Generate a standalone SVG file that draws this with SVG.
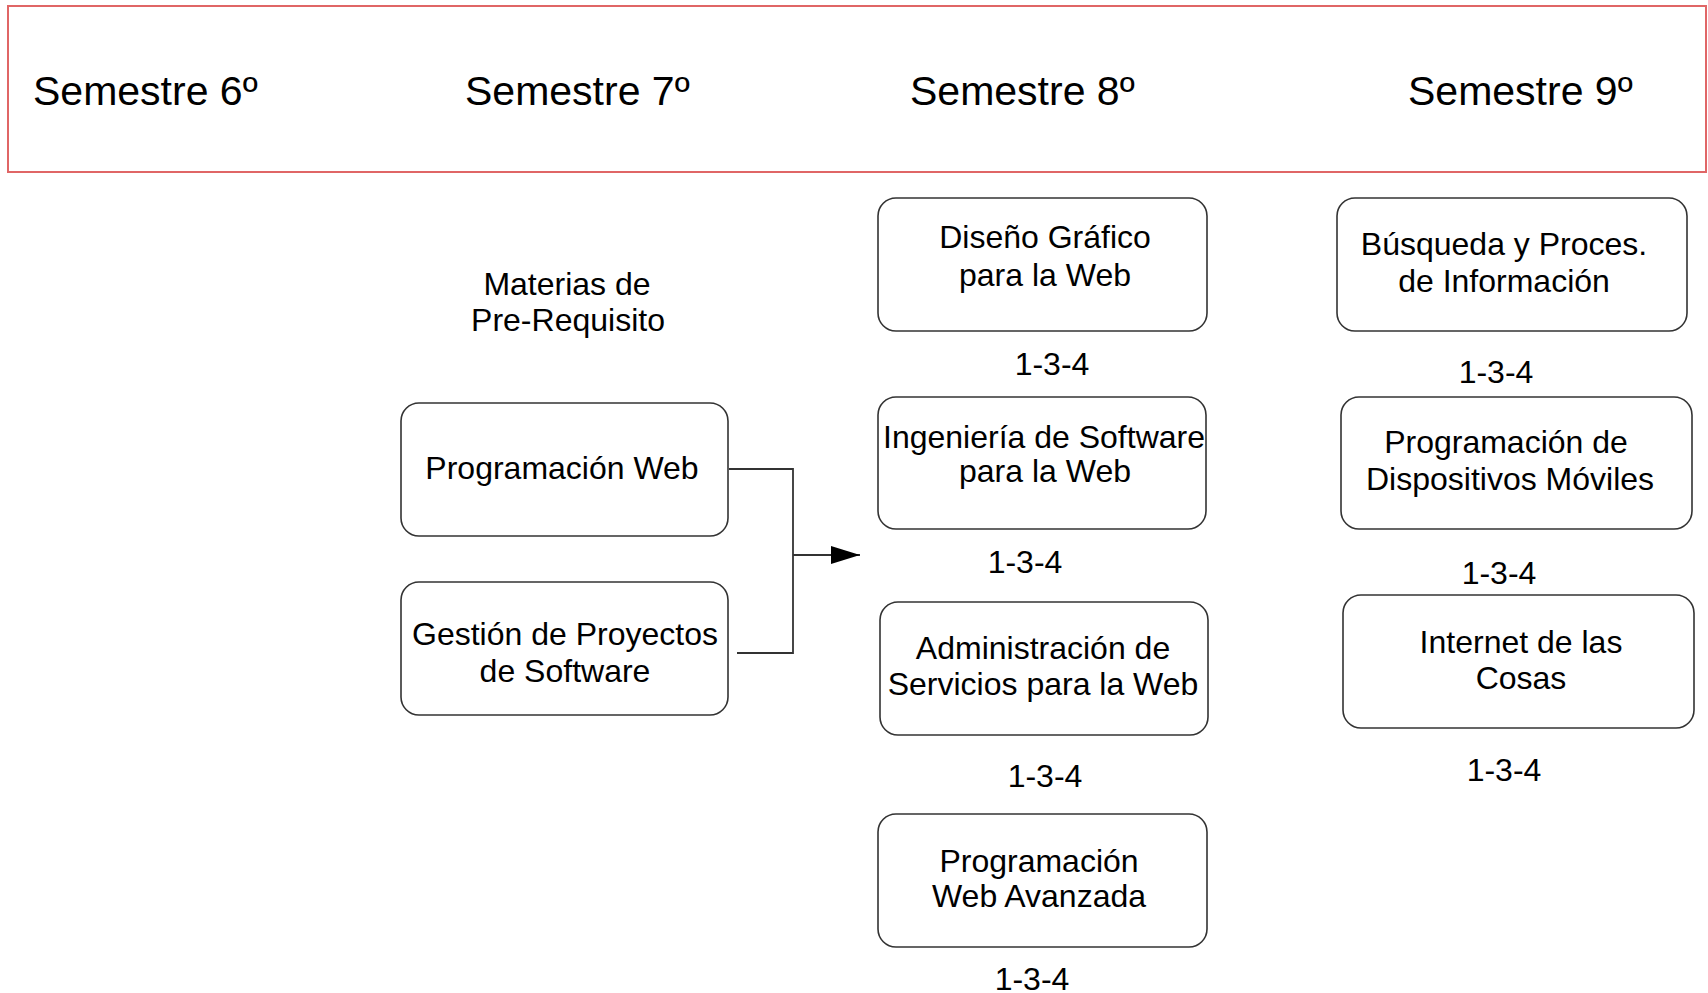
<svg xmlns="http://www.w3.org/2000/svg" width="1708" height="993" viewBox="0 0 1708 993">
<style>
text{font-family:"Liberation Sans",Arial,Helvetica,sans-serif;fill:#000}
.h{font-size:41px}
.t{font-size:32px;text-anchor:middle}
.box{fill:#fff;stroke:#333;stroke-width:1.6}
.conn{fill:none;stroke:#333;stroke-width:1.8}
</style>
<defs>
<marker id="arr" markerWidth="30" markerHeight="20" refX="29" refY="9" orient="auto" markerUnits="userSpaceOnUse">
<path d="M0,0 L29,9 L0,18 Z" fill="#000"/>
</marker>
</defs>
<rect width="1708" height="993" fill="#fff"/>
<g id="header">
<rect x="8" y="6" width="1698" height="166" fill="none" stroke="#e06666" stroke-width="2"/>
<text class="h" x="33" y="105">Semestre 6º</text>
<text class="h" x="465" y="105">Semestre 7º</text>
<text class="h" x="910" y="105">Semestre 8º</text>
<text class="h" x="1408" y="105">Semestre 9º</text>
</g>
<g id="prereq-label">
<text class="t" x="567" y="295">Materias de</text>
<text class="t" x="568" y="331">Pre-Requisito</text>
</g>
<g id="connectors">
<path class="conn" d="M729,469 H793 V653 H737"/>
<path class="conn" d="M793,555 H860" marker-end="url(#arr)"/>
</g>
<g id="prog-web">
<rect class="box" x="401" y="403" width="327" height="133" rx="18"/>
<text class="t" x="562" y="479">Programación Web</text>
</g>
<g id="gestion">
<rect class="box" x="401" y="582" width="327" height="133" rx="18"/>
<text class="t" x="565" y="645">Gestión de Proyectos</text>
<text class="t" x="565" y="682">de Software</text>
</g>
<g id="diseno">
<rect class="box" x="878" y="198" width="329" height="133" rx="18"/>
<text class="t" x="1045" y="248">Diseño Gráfico</text>
<text class="t" x="1045" y="286">para la Web</text>
<text class="t" x="1052" y="375">1-3-4</text>
</g>
<g id="ingenieria">
<rect class="box" x="878" y="397" width="328" height="132" rx="18"/>
<text class="t" x="1044" y="448">Ingeniería de Software</text>
<text class="t" x="1045" y="482">para la Web</text>
<text class="t" x="1025" y="573">1-3-4</text>
</g>
<g id="administracion">
<rect class="box" x="880" y="602" width="328" height="133" rx="18"/>
<text class="t" x="1043" y="659">Administración de</text>
<text class="t" x="1043" y="695">Servicios para la Web</text>
<text class="t" x="1045" y="787">1-3-4</text>
</g>
<g id="prog-web-avanzada">
<rect class="box" x="878" y="814" width="329" height="133" rx="18"/>
<text class="t" x="1039" y="872">Programación</text>
<text class="t" x="1039" y="907">Web Avanzada</text>
<text class="t" x="1032" y="990">1-3-4</text>
</g>
<g id="busqueda">
<rect class="box" x="1337" y="198" width="350" height="133" rx="18"/>
<text class="t" x="1504" y="255">Búsqueda y Proces.</text>
<text class="t" x="1504" y="292">de Información</text>
<text class="t" x="1496" y="383">1-3-4</text>
</g>
<g id="dispositivos">
<rect class="box" x="1341" y="397" width="351" height="132" rx="18"/>
<text class="t" x="1506" y="453">Programación de</text>
<text class="t" x="1510" y="490">Dispositivos Móviles</text>
<text class="t" x="1499" y="584">1-3-4</text>
</g>
<g id="internet">
<rect class="box" x="1343" y="595" width="351" height="133" rx="18"/>
<text class="t" x="1521" y="653">Internet de las</text>
<text class="t" x="1521" y="689">Cosas</text>
<text class="t" x="1504" y="781">1-3-4</text>
</g>
</svg>
